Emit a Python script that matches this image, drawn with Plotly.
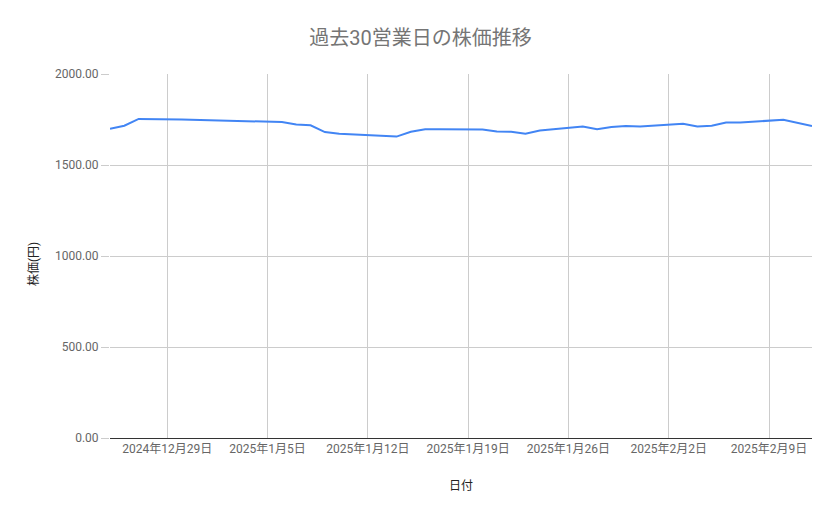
"""
    Stock price over the last 30 business days
"""
import plotly.graph_objects as go

# Business days (Japan market)
dates = ['2024-12-25', '2024-12-26', '2024-12-27', '2024-12-30',
         '2025-01-06', '2025-01-07', '2025-01-08', '2025-01-09', '2025-01-10',
         '2025-01-14', '2025-01-15', '2025-01-16', '2025-01-17',
         '2025-01-20', '2025-01-21', '2025-01-22', '2025-01-23', '2025-01-24',
         '2025-01-27', '2025-01-28', '2025-01-29', '2025-01-30', '2025-01-31',
         '2025-02-03', '2025-02-04', '2025-02-05', '2025-02-06', '2025-02-07',
         '2025-02-10', '2025-02-12']
prices = [1699, 1716, 1753, 1750,
          1736, 1722, 1718, 1681, 1672,
          1656, 1683, 1697, 1697,
          1695, 1684, 1683, 1672, 1689,
          1712, 1696, 1709, 1714, 1712,
          1727, 1712, 1716, 1733, 1733,
          1749, 1714]

tick_dates = ['2024-12-29', '2025-01-05', '2025-01-12', '2025-01-19',
              '2025-01-26', '2025-02-02', '2025-02-09']
tick_labels = ['2024年12月29日', '2025年1月5日', '2025年1月12日', '2025年1月19日',
               '2025年1月26日', '2025年2月2日', '2025年2月9日']
y_ticks = [0, 500, 1000, 1500, 2000]

font_family = "Roboto, 'Noto Sans CJK JP', sans-serif"

fig = go.Figure(go.Scatter(x=dates, y=prices, mode='lines',
                           line=dict(color='#4285f4', width=2),
                           showlegend=False))

# page has an 8px body margin, so margins are shifted to compensate
fig.update_layout(
    width=839, height=519,
    margin=dict(l=102, r=35, t=66, b=89),
    paper_bgcolor='white', plot_bgcolor='white',
    font=dict(family=font_family, size=12, color='#444444'),
    title=dict(text='過去30営業日の株価推移', x=0.4917, xanchor='center',
               y=0.942, yanchor='middle',
               font=dict(size=20, color='#757575', family=font_family)),
    xaxis=dict(
        range=[dates[0], dates[-1]],
        tickvals=tick_dates, ticktext=tick_labels,
        showgrid=True, gridcolor='#cccccc', gridwidth=1,
        showline=True, linecolor='#333333', linewidth=1,
        ticks='', tickfont=dict(size=12, color='#666666'),
        title=dict(text='日付', font=dict(size=12, color='#222222'), standoff=26),
        zeroline=False,
    ),
    yaxis=dict(
        range=[0, 2000],
        tickvals=y_ticks, tickformat='.2f',
        showgrid=True, gridcolor='#cccccc', gridwidth=1,
        ticks='outside', ticklen=8, tickcolor='#cccccc',
        tickfont=dict(size=12, color='#666666'),
        zeroline=False, showline=False,
    ),
    # y axis title placed by hand, it sits a bit below the plot centre
    annotations=[dict(text='株価(円)', textangle=-90, showarrow=False,
                      xref='paper', yref='paper', x=-0.1097, y=0.478,
                      xanchor='center', yanchor='middle',
                      font=dict(size=12, color='#222222'))],
)

fig.write_html("out.html")
